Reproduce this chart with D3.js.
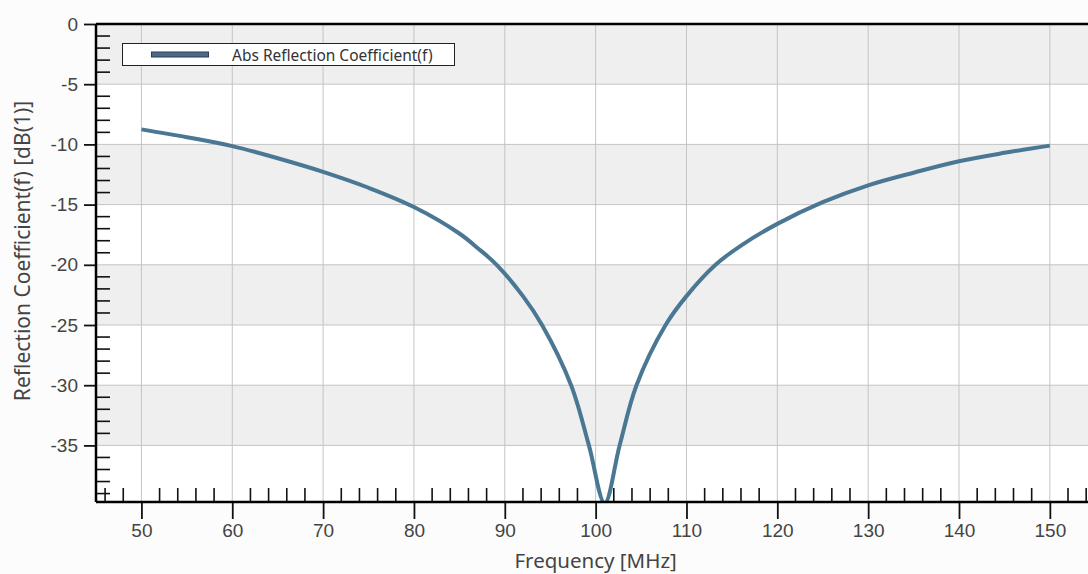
<!DOCTYPE html>
<html>
<head>
<meta charset="utf-8">
<script src="https://cdn.jsdelivr.net/npm/d3@7"></script>
<style>
  body { margin: 0; background: #fcfcfc; }
  svg { display: block; font-family: "Noto Sans", "Open Sans", sans-serif; }
</style>
</head>
<body>
<div id="chart"></div>
<script>
// frequency in MHz, reflection coefficient in dB
var freqs = [50, 55, 60, 65, 70, 75, 80, 85, 87, 89.1, 92, 94.1, 97.3, 99.26, 101,
             102.64, 104.5, 107.7, 110, 113.2, 116, 120, 125, 130, 135, 140, 145, 150];
var refl = [-8.75, -9.4, -10.14, -11.15, -12.28, -13.6, -15.2, -17.4, -18.6, -20, -22.6, -25, -30, -35, -39.8,
            -35, -30, -25, -22.6, -20, -18.4, -16.6, -14.8, -13.4, -12.35, -11.4, -10.7, -10.1];
var xTicks = [50, 60, 70, 80, 90, 100, 110, 120, 130, 140, 150];
var yTicks = [0, -5, -10, -15, -20, -25, -30, -35];
var seriesName = "Abs Reflection Coefficient(f)";

var W = 1088, H = 574;
var plotL = 96, plotT = 24, plotB = 502, plotR = 1088;

var x = d3.scaleLinear().domain([45, 154.2]).range([plotL, plotR]);
var y = d3.scaleLinear().domain([-39.7, 0]).range([plotB, plotT]);

var svg = d3.select("#chart").append("svg")
  .attr("width", W)
  .attr("height", H);

svg.append("defs").append("clipPath")
  .attr("id", "clip")
  .append("rect")
  .attr("x", plotL).attr("y", plotT)
  .attr("width", plotR - plotL).attr("height", plotB - plotT);

// alternating bands
var bands = d3.range(0, 8).map(function(i) { return [-5 * i, Math.max(-5 * i - 5, -39.7)]; });
svg.selectAll(".band")
  .data(bands)
  .enter().append("rect")
  .attr("x", plotL)
  .attr("width", plotR - plotL)
  .attr("y", function(d) { return y(d[0]); })
  .attr("height", function(d) { return y(d[1]) - y(d[0]); })
  .attr("fill", function(d, i) { return i % 2 == 0 ? "#efefef" : "#ffffff"; });

// grid
svg.selectAll(".vgrid")
  .data(xTicks)
  .enter().append("line")
  .attr("x1", function(d) { return x(d); })
  .attr("x2", function(d) { return x(d); })
  .attr("y1", plotT).attr("y2", plotB)
  .attr("stroke", "#c4c4c4").attr("stroke-width", 1);

svg.selectAll(".hgrid")
  .data(yTicks.slice(1))
  .enter().append("line")
  .attr("x1", plotL).attr("x2", plotR)
  .attr("y1", function(d) { return y(d); })
  .attr("y2", function(d) { return y(d); })
  .attr("stroke", "#c4c4c4").attr("stroke-width", 1);

// curve
var line = d3.line()
  .x(function(d, i) { return x(freqs[i]); })
  .y(function(d) { return y(d); })
  .curve(d3.curveCatmullRom.alpha(0.5));

svg.append("path")
  .datum(refl)
  .attr("clip-path", "url(#clip)")
  .attr("d", line)
  .attr("fill", "none")
  .attr("stroke", "#4a7793")
  .attr("stroke-width", 4);

// minor ticks (inside)
var xMinor = d3.range(46, 155, 2).filter(function(d) { return d % 10 != 0; });
var yMinor = d3.range(-39, 0, 1).filter(function(d) { return d % 5 != 0; });

svg.selectAll(".xminor")
  .data(xMinor)
  .enter().append("line")
  .attr("x1", function(d) { return x(d); })
  .attr("x2", function(d) { return x(d); })
  .attr("y1", plotB).attr("y2", plotB - 14)
  .attr("stroke", "#111").attr("stroke-width", 1.6);

svg.selectAll(".yminor")
  .data(yMinor)
  .enter().append("line")
  .attr("x1", plotL).attr("x2", plotL + 14)
  .attr("y1", function(d) { return y(d); })
  .attr("y2", function(d) { return y(d); })
  .attr("stroke", "#111").attr("stroke-width", 1.6);

// x axis
var xAxis = svg.append("g")
  .attr("transform", "translate(0," + plotB + ")")
  .call(d3.axisBottom(x).tickValues(xTicks).tickSize(17).tickPadding(5).tickFormat(function(d) { return String(d); }));
xAxis.select(".domain").remove();
xAxis.selectAll(".tick line").attr("stroke", "#111").attr("stroke-width", 1.8);
xAxis.selectAll("text").attr("fill", "#444").style("font-size", "19px");

// y axis
var yAxis = svg.append("g")
  .attr("transform", "translate(" + plotL + ",0)")
  .call(d3.axisLeft(y).tickValues(yTicks).tickSize(12).tickPadding(6).tickFormat(function(d) { return String(d); }));
yAxis.select(".domain").remove();
yAxis.selectAll(".tick line").attr("stroke", "#111").attr("stroke-width", 1.8);
yAxis.selectAll("text").attr("fill", "#444").style("font-size", "19px");

// frame lines
svg.append("line")
  .attr("x1", plotL).attr("x2", plotR)
  .attr("y1", plotB).attr("y2", plotB)
  .attr("stroke", "#000").attr("stroke-width", 2.5);
svg.append("line")
  .attr("x1", plotL).attr("x2", plotR)
  .attr("y1", plotT).attr("y2", plotT)
  .attr("stroke", "#000").attr("stroke-width", 2.5);
svg.append("line")
  .attr("x1", plotL).attr("x2", plotL)
  .attr("y1", plotT).attr("y2", plotB)
  .attr("stroke", "#000").attr("stroke-width", 2.5);

// axis titles
svg.append("text")
  .attr("x", x(100))
  .attr("y", 568)
  .attr("text-anchor", "middle")
  .attr("fill", "#444")
  .style("font-size", "20.5px")
  .text("Frequency [MHz]");

svg.append("text")
  .attr("transform", "translate(30,251) rotate(-90)")
  .attr("text-anchor", "middle")
  .attr("fill", "#444")
  .style("font-size", "21px")
  .text("Reflection Coefficient(f) [dB(1)]");

// legend
var legend = svg.append("g").attr("class", "legend");
legend.append("rect")
  .attr("x", 122.5).attr("y", 43.5)
  .attr("width", 332).attr("height", 22)
  .attr("fill", "#ffffff")
  .attr("stroke", "#222").attr("stroke-width", 1);
legend.append("rect")
  .attr("x", 151.5).attr("y", 52)
  .attr("width", 57).attr("height", 5)
  .attr("fill", "#4c6a86")
  .attr("stroke", "#2c3e50").attr("stroke-width", 1);
legend.append("text")
  .attr("x", 232).attr("y", 61)
  .attr("fill", "#333")
  .style("font-size", "15.5px")
  .text(seriesName);
</script>
</body>
</html>
